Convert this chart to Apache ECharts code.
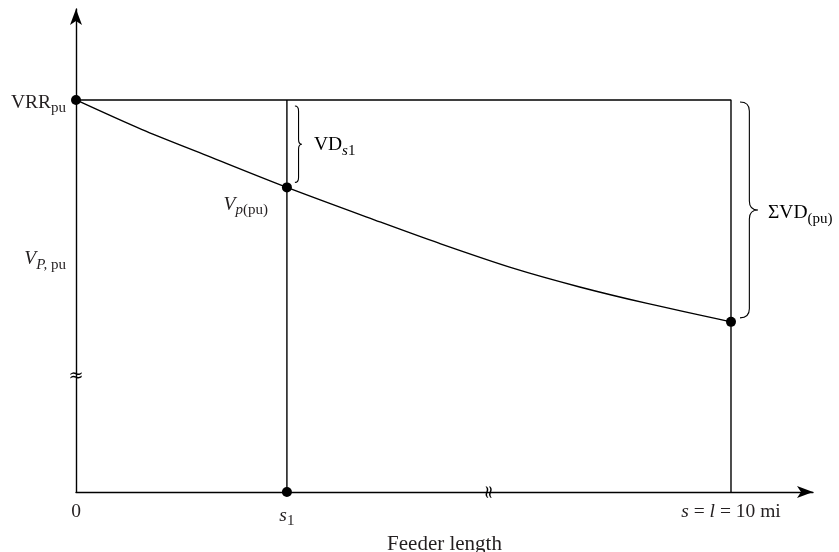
<!DOCTYPE html>
<html>
<head>
<meta charset="utf-8">
<script src="https://cdn.jsdelivr.net/npm/echarts@6/dist/echarts.min.js"></script>
<style>
html,body{margin:0;padding:0;background:#fff;}
#chart{width:839px;height:552px;}
</style>
</head>
<body>
<div id="chart"></div>
<script>
// ---- data ----
const curveX = [0, 1, 2, 3.22, 4.64, 5.55, 6.67, 7.69, 8.72, 10];
const curveY = [1.0, 0.925, 0.858, 0.777, 0.689, 0.634, 0.571, 0.523, 0.481, 0.434];
const VRR = 1.0;
const s1 = 3.22;
const feederEnd = 10;
const yNamePos = 0.60;   // where the voltage-axis title sits
const xTickValues = [0, s1, feederEnd];
const xTickLabels = ['{n|0}', '{i|s}{sub|1}', '{i|s}{n| = }{i|l}{n| = 10 mi}'];
const yTickValues = [VRR, yNamePos];
const yTickLabels = ['{n|VRR}{sub|pu}', '{i|V}{subi|P,}{sub| pu}'];
const xAxisName = 'Feeder length';
const pointLabel = '{i|V}{subi|p}{sub|(pu)}';
const braceLabels = ['{n|VD}{subi|s}{sub|1}', '{n|ΣVD}{sub|(pu)}'];
const breakX = 6.29;   // axis break mark on feeder axis
const breakY = 0.295;  // axis break mark on voltage axis
const xMax = 11.252, yMax = 1.2321;

// ---- derived ----
const curve = curveX.map((x, i) => [x, curveY[i]]);
const vpS1 = curveY[curveX.indexOf(s1)];
const vEnd = curveY[curveY.length - 1];
const dots = [[0, VRR], [s1, vpS1], [feederEnd, vEnd], [s1, 0]];
const braces = [[s1, VRR, vpS1], [feederEnd, VRR, vEnd]];
const breaks = [[0, breakY, 0], [breakX, 0, 90]];

const FONT = 'Liberation Serif';
const TXT = '#231f20';
const rich = {
  n: {fontFamily: FONT, fontSize: 19.5, color: TXT},
  i: {fontFamily: FONT, fontSize: 19.5, fontStyle: 'italic', color: TXT},
  sub: {fontFamily: FONT, fontSize: 15, color: TXT, padding: [12, 0, 0, 0]},
  subi: {fontFamily: FONT, fontSize: 15, fontStyle: 'italic', color: TXT, padding: [12, 0, 0, 0]}
};

const chart = echarts.init(document.getElementById('chart'), null, {renderer: 'canvas'});

function bracePath(x0, w, top, bot, r) {
  const xb = x0 + w * 0.52, xt = x0 + w, mid = (top + bot) / 2;
  return 'M' + x0 + ',' + top + ' Q' + xb + ',' + top + ' ' + xb + ',' + (top + r) +
    ' L' + xb + ',' + (mid - r) + ' Q' + xb + ',' + mid + ' ' + xt + ',' + mid +
    ' Q' + xb + ',' + mid + ' ' + xb + ',' + (mid + r) +
    ' L' + xb + ',' + (bot - r) + ' Q' + xb + ',' + bot + ' ' + x0 + ',' + bot;
}

const option = {
  animation: false,
  backgroundColor: '#fff',
  grid: {left: 76, right: 26, top: 9, bottom: 60, containLabel: false, outerBoundsMode: 'none'},
  xAxis: {
    type: 'value', min: 0, max: xMax,
    name: xAxisName, nameLocation: 'middle', nameGap: 35,
    nameTextStyle: {fontFamily: FONT, fontSize: 21, color: TXT},
    axisLine: {show: true, lineStyle: {color: '#000', width: 1.4}, symbol: ['none', 'arrow'], symbolSize: [9, 16]},
    axisTick: {show: false},
    splitLine: {show: false},
    axisLabel: {
      customValues: xTickValues, margin: 10,
      formatter: v => xTickLabels[xTickValues.findIndex(t => Math.abs(t - v) < 1e-6)] || '',
      rich: rich
    }
  },
  yAxis: {
    type: 'value', min: 0, max: yMax,
    axisLine: {show: true, lineStyle: {color: '#000', width: 1.4}, symbol: ['none', 'arrow'], symbolSize: [9, 16]},
    axisTick: {show: false},
    splitLine: {show: false},
    axisLabel: {
      customValues: yTickValues, margin: 10,
      formatter: v => yTickLabels[yTickValues.findIndex(t => Math.abs(t - v) < 1e-6)] || '',
      rich: rich, padding: [5, 0, 0, 0]
    }
  },
  series: [
    {
      type: 'line', data: [[0, VRR], [feederEnd, VRR], [feederEnd, 0]],
      symbol: 'none', lineStyle: {color: '#000', width: 1.4}, silent: true
    },
    {
      type: 'line', data: [[s1, VRR], [s1, 0]],
      symbol: 'none', lineStyle: {color: '#000', width: 1.4}, silent: true
    },
    {
      type: 'line', data: curve, smooth: 0.3,
      symbol: 'none', lineStyle: {color: '#000', width: 1.4}, silent: true
    },
    {
      type: 'scatter', data: dots, symbol: 'circle', symbolSize: 10,
      itemStyle: {color: '#000', opacity: 1}, silent: true, z: 4,
      label: {
        show: true, color: TXT, textBorderWidth: 0,
        formatter: p => (p.dataIndex === 1 ? pointLabel : ''),
        position: 'left', distance: 14, offset: [0, 17],
        rich: rich
      }
    },
    {
      type: 'custom', data: breaks, silent: true, z: 5,
      renderItem: function (params, api) {
        const p = api.coord([api.value(0), api.value(1)]);
        return {
          type: 'text', x: p[0], y: p[1], rotation: -api.value(2) * Math.PI / 180,
          style: {text: '≈', fontFamily: 'DejaVu Serif', fontSize: 18, fill: '#000',
                  align: 'center', verticalAlign: 'middle'}
        };
      }
    },
    {
      type: 'custom', data: braces, silent: true,
      renderItem: function (params, api) {
        const k = params.dataIndex;
        const top = api.coord([api.value(0), api.value(1)]);
        const bot = api.coord([api.value(0), api.value(2)]);
        const cfg = k === 0 ? {dx: 8, w: 7, pt: 6, pb: 5, r: 5, tx: 12, ty: 1}
                            : {dx: 9, w: 18, pt: 2, pb: 4, r: 9, tx: 10, ty: 3};
        const x0 = top[0] + cfg.dx;
        const y0 = top[1] + cfg.pt, y1 = bot[1] - cfg.pb;
        return {
          type: 'group',
          children: [
            {type: 'path', shape: {pathData: bracePath(x0, cfg.w, y0, y1, cfg.r)},
             style: {fill: 'none', stroke: '#000', lineWidth: 1.1}},
            {type: 'text', x: x0 + cfg.w + cfg.tx, y: (y0 + y1) / 2 + cfg.ty,
             style: {text: braceLabels[k], rich: rich, verticalAlign: 'middle', align: 'left'}}
          ]
        };
      }
    }
  ]
};
chart.setOption(option);
</script>
</body>
</html>
